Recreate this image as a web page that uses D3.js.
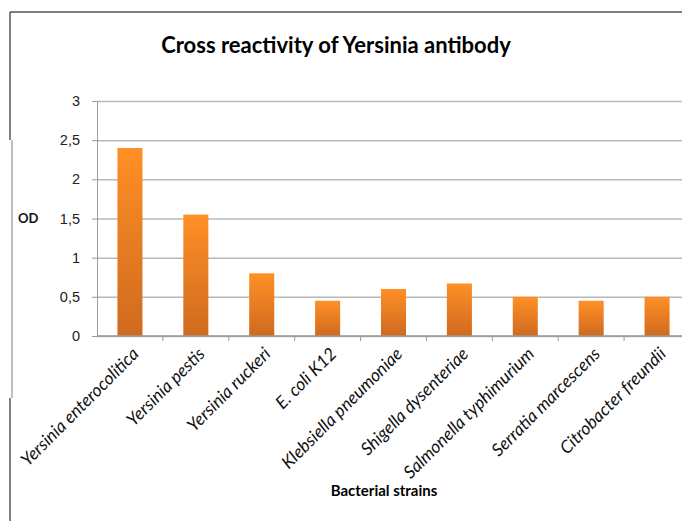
<!DOCTYPE html>
<html>
<head>
<meta charset="utf-8">
<script src="https://cdn.jsdelivr.net/npm/d3@7"></script>
<style>
  body { margin: 0; background: #fff; }
  svg { font-family: Lato, "Open Sans", sans-serif; }
</style>
</head>
<body>
<div id="chart"></div>
<script>
const strains = ["Yersinia enterocolitica", "Yersinia pestis", "Yersinia ruckeri", "E. coli K12",
                 "Klebsiella pneumoniae", "Shigella dysenteriae", "Salmonella typhimurium",
                 "Serratia marcescens", "Citrobacter freundii"];
const odValues = [2.4, 1.55, 0.8, 0.45, 0.6, 0.67, 0.5, 0.45, 0.5];
const yTicks = [0, 0.5, 1, 1.5, 2, 2.5, 3];

const W = 682, H = 521;
const margin = { top: 101, right: -8, bottom: 185, left: 97 },
      width = W - margin.left - margin.right,
      height = H - margin.top - margin.bottom;

const svg = d3.select("#chart").append("svg")
              .attr("width", W)
              .attr("height", H);

// outer frame (left + top)
svg.append("line").attr("x1", 10).attr("x2", W).attr("y1", 12).attr("y2", 12)
   .attr("stroke", "#555").attr("stroke-width", 1.5);
svg.append("line").attr("x1", 10).attr("x2", 10).attr("y1", 12).attr("y2", 140)
   .attr("stroke", "#555").attr("stroke-width", 1.5);
svg.append("line").attr("x1", 12).attr("x2", 12).attr("y1", 140).attr("y2", 398)
   .attr("stroke", "#aaa").attr("stroke-width", 1.5);
svg.append("line").attr("x1", 10).attr("x2", 10).attr("y1", 398).attr("y2", H)
   .attr("stroke", "#555").attr("stroke-width", 1.5);

const defs = svg.append("defs");
const grad = defs.append("linearGradient").attr("id", "barGrad")
                 .attr("x1", 0).attr("y1", 0).attr("x2", 0).attr("y2", 1);
grad.append("stop").attr("offset", "0%").attr("stop-color", "#ff9026");
grad.append("stop").attr("offset", "100%").attr("stop-color", "#cf6a1f");

const g = svg.append("g").attr("transform", `translate(${margin.left},${margin.top})`);

const x = d3.scaleBand().domain(strains).range([0, width]).paddingInner(0.62).paddingOuter(0.31);
const xTicks = d3.scaleBand().domain(strains).range([0, width]).padding(0);
const y = d3.scaleLinear().domain([0, 3]).range([height, 0]);

// gridlines
g.append("g")
 .call(d3.axisLeft(y).tickValues(yTicks).tickSize(-width).tickFormat(""))
 .call(a => a.select(".domain").remove())
 .call(a => a.selectAll("line").attr("stroke", "#b8b8b8").attr("stroke-width", 1.5));

// y axis
g.append("g")
 .call(d3.axisLeft(y).tickValues(yTicks).tickSize(5).tickPadding(12)
         .tickFormat(d => String(d).replace(".", ",")))
 .call(a => a.select(".domain").attr("stroke", "#999"))
 .call(a => a.selectAll("line").attr("stroke", "#999"))
 .call(a => a.selectAll("text").attr("fill", "#222").style("font-size", "14.5px"));

// bars
g.selectAll("rect.bar")
 .data(strains)
 .enter()
 .append("rect")
 .attr("class", "bar")
 .attr("x", d => x(d))
 .attr("width", x.bandwidth())
 .attr("y", (d, i) => y(odValues[i]))
 .attr("height", (d, i) => height - y(odValues[i]))
 .attr("fill", "url(#barGrad)");

// x axis baseline + ticks at category boundaries
g.append("line").attr("x1", 0).attr("x2", width).attr("y1", height).attr("y2", height)
 .attr("stroke", "#999").attr("stroke-width", 1.5);
g.selectAll("line.xtick")
 .data(strains.slice(1))
 .enter()
 .append("line")
 .attr("class", "xtick")
 .attr("x1", d => xTicks(d)).attr("x2", d => xTicks(d))
 .attr("y1", height).attr("y2", height + 5)
 .attr("stroke", "#999");

// rotated category labels
g.selectAll("text.xlabel")
 .data(strains)
 .enter()
 .append("text")
 .attr("class", "xlabel")
 .attr("transform", d => `translate(${x(d) + x.bandwidth() / 2 + 10},${height + 19}) rotate(-45)`)
 .attr("text-anchor", "end")
 .style("font-style", "italic")
 .style("font-size", "17.5px")
 .attr("fill", "#111")
 .text(d => d);

// title
svg.append("text")
   .attr("x", 336).attr("y", 53)
   .attr("text-anchor", "middle")
   .style("font-weight", "bold")
   .style("font-size", "22px")
   .attr("fill", "#000")
   .text("Cross reactivity of Yersinia antibody");

// axis titles
svg.append("text")
   .attr("x", 18).attr("y", 223)
   .style("font-weight", "bold")
   .style("font-size", "13px")
   .attr("fill", "#111")
   .text("OD");

svg.append("text")
   .attr("x", 384).attr("y", 496)
   .attr("text-anchor", "middle")
   .style("font-weight", "bold")
   .style("font-size", "15px")
   .attr("fill", "#000")
   .text("Bacterial strains");
</script>
</body>
</html>
